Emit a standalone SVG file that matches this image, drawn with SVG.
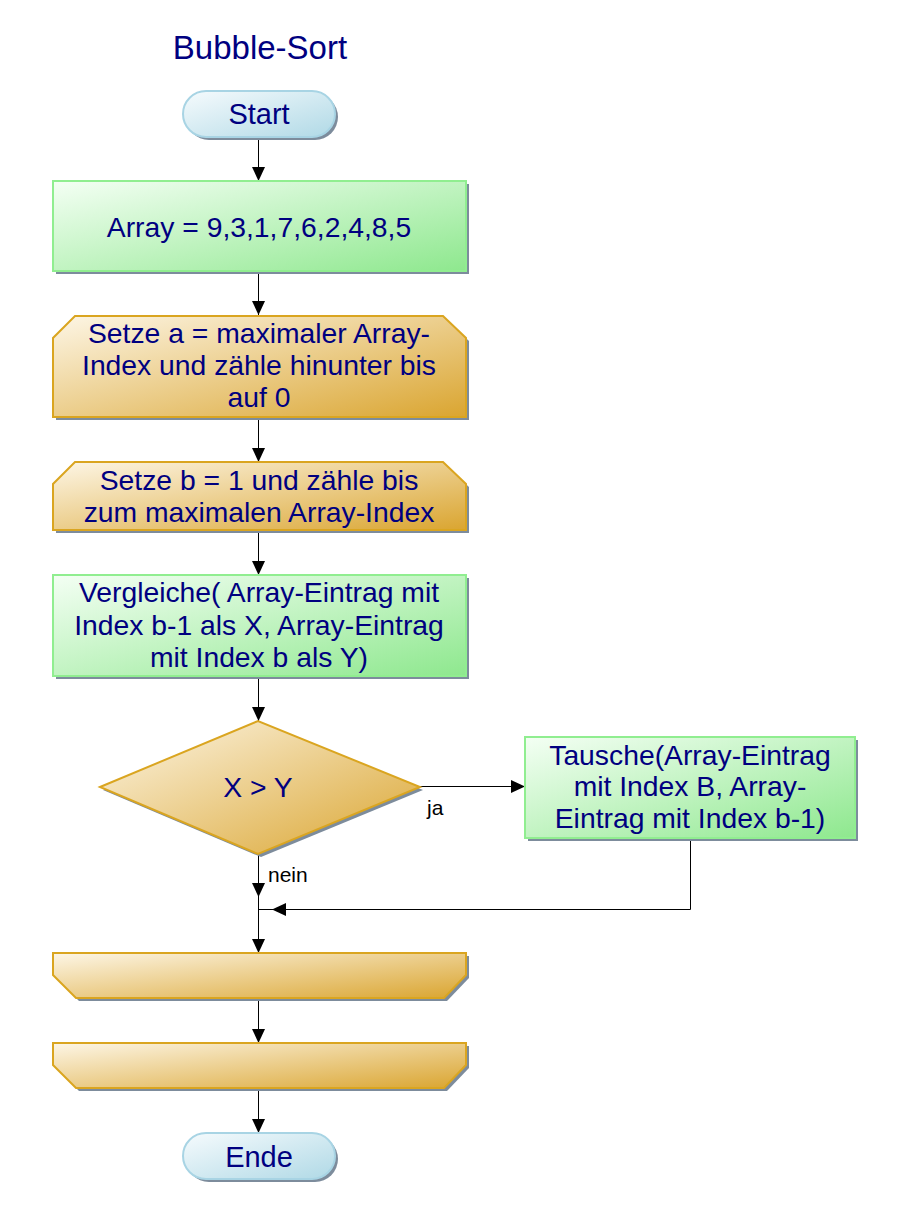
<svg xmlns="http://www.w3.org/2000/svg" width="907" height="1222" viewBox="0 0 907 1222">
<style>
.t{font-family:"Liberation Sans",Arial,sans-serif;fill:#000080;text-anchor:middle;font-size:28.3px}
.lbl{font-family:"Liberation Sans",Arial,sans-serif;fill:#000;font-size:21px}
.c{fill:none;stroke:#000;stroke-width:1}
.sh{fill:#7d8c9c}
.g{fill:url(#gGreen);stroke:#90ee90;stroke-width:2}
.o{fill:url(#gOrange);stroke:#daa520;stroke-width:2}
.b{fill:url(#gBlue);stroke:#a8d4e4;stroke-width:2}
</style>
<defs>
<linearGradient id="gGreen" x1="0" y1="0" x2="1" y2="1">
<stop offset="0" stop-color="#f4fff4"/><stop offset="1" stop-color="#8ee88e"/>
</linearGradient>
<linearGradient id="gOrange" x1="0" y1="0" x2="1" y2="1">
<stop offset="0" stop-color="#fdf6e6"/><stop offset="1" stop-color="#daa530"/>
</linearGradient>
<linearGradient id="gBlue" x1="0" y1="0" x2="1" y2="1">
<stop offset="0" stop-color="#f6fbfd"/><stop offset="1" stop-color="#b0d9e6"/>
</linearGradient>
<marker id="arr" viewBox="0 0 14 13" refX="14" refY="6.5" markerWidth="14" markerHeight="13" markerUnits="userSpaceOnUse" orient="auto">
<path d="M0,0 L14,6.5 L0,13 z" fill="#000"/>
</marker>
</defs>
<rect width="907" height="1222" fill="#fff"/>
<text class="t" x="260" y="59" style="font-size:33px">Bubble-Sort</text>

<g id="connectors">
<path class="c" d="M258.5,137 V181" marker-end="url(#arr)"/>
<path class="c" d="M258.5,271 V315" marker-end="url(#arr)"/>
<path class="c" d="M258.5,417 V462" marker-end="url(#arr)"/>
<path class="c" d="M258.5,530 V575" marker-end="url(#arr)"/>
<path class="c" d="M258.5,676 V721" marker-end="url(#arr)"/>
<path class="c" d="M420,786.5 H525" marker-end="url(#arr)"/>
<path class="c" d="M258.5,854 V897" marker-end="url(#arr)"/>
<path class="c" d="M690.5,838 V909.5 H272" marker-end="url(#arr)"/>
<path class="c" d="M272,909.5 H258.5"/>
<path class="c" d="M258.5,897 V953" marker-end="url(#arr)"/>
<path class="c" d="M258.5,998 V1043" marker-end="url(#arr)"/>
<path class="c" d="M258.5,1088 V1133" marker-end="url(#arr)"/>
<text class="lbl" x="427" y="815">ja</text>
<text class="lbl" x="268" y="882">nein</text>
</g>

<g id="start">
<rect class="sh" x="186" y="94" width="152" height="46" rx="23"/>
<rect class="b" x="183" y="91" width="152" height="46" rx="23"/>
<text class="t" x="259" y="124" style="font-size:29px">Start</text>
</g>

<g id="array">
<rect class="sh" x="56" y="184" width="413" height="90"/>
<rect class="g" x="53" y="181" width="413" height="90"/>
<text class="t" x="259" y="237">Array = 9,3,1,7,6,2,4,8,5</text>
</g>

<g id="loopA">
<polygon class="sh" points="78,319 446,319 469,341 469,420 56,420 56,341"/>
<polygon class="o" points="75,316 443,316 466,338 466,417 53,417 53,338"/>
<text class="t" x="259" y="343">Setze a = maximaler Array-</text>
<text class="t" x="259" y="375">Index und zähle hinunter bis</text>
<text class="t" x="259" y="407">auf 0</text>
</g>

<g id="loopB">
<polygon class="sh" points="78,465 446,465 469,487 469,533 56,533 56,487"/>
<polygon class="o" points="75,462 443,462 466,484 466,530 53,530 53,484"/>
<text class="t" x="259" y="490">Setze b = 1 und zähle bis</text>
<text class="t" x="259" y="522">zum maximalen Array-Index</text>
</g>

<g id="compare">
<rect class="sh" x="56" y="578" width="413" height="101"/>
<rect class="g" x="53" y="575" width="413" height="101"/>
<text class="t" x="259" y="602">Vergleiche( Array-Eintrag mit</text>
<text class="t" x="259" y="635">Index b-1 als X, Array-Eintrag</text>
<text class="t" x="259" y="667">mit Index b als Y)</text>
</g>

<g id="decision">
<polygon class="sh" points="103,790 261,724 423,790 261,857"/>
<polygon class="o" points="100,787 258,721 420,787 258,854"/>
<text class="t" x="258" y="797">X &gt; Y</text>
</g>

<g id="swap">
<rect class="sh" x="528" y="740" width="330" height="101"/>
<rect class="g" x="525" y="737" width="330" height="101"/>
<text class="t" x="690" y="765">Tausche(Array-Eintrag</text>
<text class="t" x="690" y="796">mit Index B, Array-</text>
<text class="t" x="690" y="828">Eintrag mit Index b-1)</text>
</g>

<g id="loopEndB">
<polygon class="sh" points="56,956 469,956 469,978 447,1001 79,1001 56,978"/>
<polygon class="o" points="53,953 466,953 466,975 444,998 76,998 53,975"/>
</g>

<g id="loopEndA">
<polygon class="sh" points="56,1046 469,1046 469,1068 447,1091 79,1091 56,1068"/>
<polygon class="o" points="53,1043 466,1043 466,1065 444,1088 76,1088 53,1065"/>
</g>

<g id="end">
<rect class="sh" x="186" y="1136" width="152" height="46" rx="23"/>
<rect class="b" x="183" y="1133" width="152" height="46" rx="23"/>
<text class="t" x="259" y="1167" style="font-size:29px">Ende</text>
</g>
</svg>
